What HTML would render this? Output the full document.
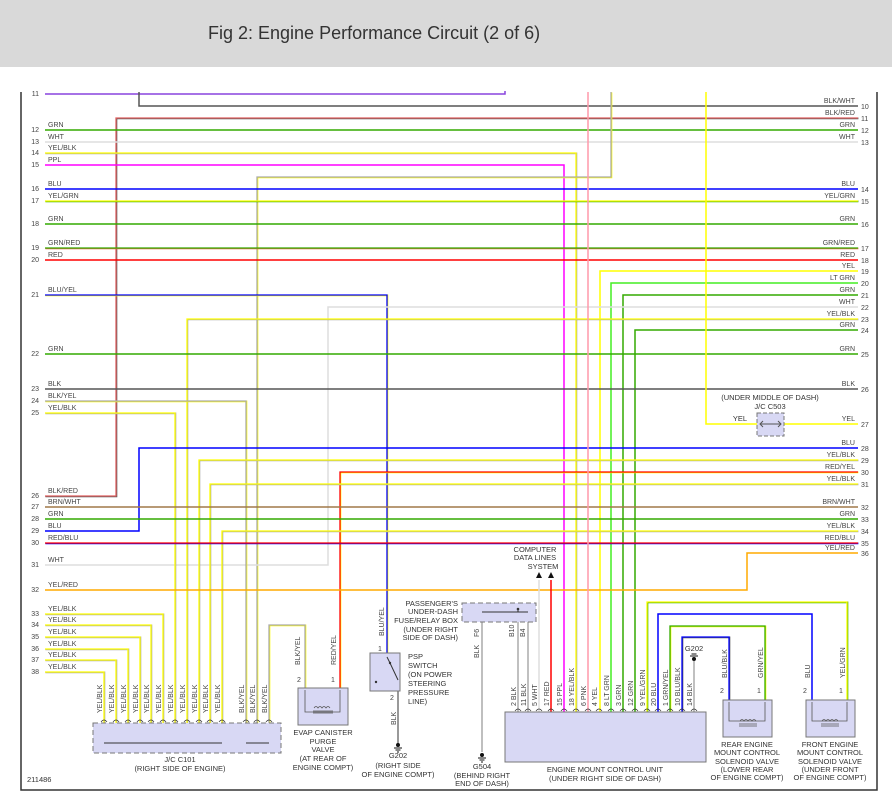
<!DOCTYPE html>
<html><head><meta charset="utf-8">
<style>
body{margin:0;background:#fff;}
svg{display:block;font-family:"Liberation Sans",sans-serif;}
.t{font-size:7px;fill:#444;}
.s{font-size:7.5px;fill:#333;}
</style></head>
<body>
<svg id="d" width="892" height="803" viewBox="0 0 892 803" xmlns="http://www.w3.org/2000/svg">
<rect x="0" y="0" width="892" height="67" fill="#d9d9d9"/>
<text x="208" y="39" font-size="18" fill="#333">Fig 2: Engine Performance Circuit (2 of 6)</text>
<path d="M21 92 V790 H877 V92" fill="none" stroke="#333" stroke-width="1.5"/>
<g id="wires"></g>
<g id="labels"></g>
<!-- C101 -->
<rect x="93" y="723" width="188" height="30" fill="#d8d8f4" stroke="#777" stroke-dasharray="5,3"/>
<text class="s" x="180" y="762" text-anchor="middle">J/C C101</text>
<text class="s" x="180" y="771" text-anchor="middle">(RIGHT SIDE OF ENGINE)</text>
<line x1="104" y1="743" x2="222" y2="743" stroke="#333"/>
<line x1="246" y1="743" x2="269" y2="743" stroke="#333"/>
<!-- EVAP -->
<rect x="298" y="688" width="50" height="37" fill="#d8d8f4" stroke="#777"/>
<path d="M305 690 V712 H340 V690" fill="none" stroke="#555" stroke-width="0.8"/>
<path d="M314 708 q2-3 4 0 q2-3 4 0 q2-3 4 0 q2-3 4 0 M313 711h20 M313 713h20" fill="none" stroke="#555" stroke-width="0.7"/>
<text class="s" x="323" y="735" text-anchor="middle">EVAP CANISTER</text>
<text class="s" x="323" y="744" text-anchor="middle">PURGE</text>
<text class="s" x="323" y="752" text-anchor="middle">VALVE</text>
<text class="s" x="323" y="761" text-anchor="middle">(AT REAR OF</text>
<text class="s" x="323" y="770" text-anchor="middle">ENGINE COMPT)</text>
<text class="t" x="297" y="682">2</text><text class="t" x="331" y="682">1</text>
<text class="t" transform="translate(300,665) rotate(-90)">BLK/YEL</text>
<text class="t" transform="translate(336,665) rotate(-90)">RED/YEL</text>
<!-- PSP -->
<rect x="370" y="653" width="30" height="38" fill="#d8d8f4" stroke="#777"/>
<path d="M387 657 L390 663 L398 680" stroke="#333" fill="none"/>
<circle cx="376" cy="682" r="1.2" fill="#333"/><circle cx="390" cy="663" r="1.2" fill="#333"/>
<text class="t" transform="translate(384,636) rotate(-90)">BLU/YEL</text>
<text class="t" x="378" y="651">1</text><text class="t" x="390" y="700">2</text>
<text class="s" x="408" y="659">PSP</text><text class="s" x="408" y="668">SWITCH</text><text class="s" x="408" y="677">(ON POWER</text><text class="s" x="408" y="686">STEERING</text><text class="s" x="408" y="695">PRESSURE</text><text class="s" x="408" y="704">LINE)</text>
<text class="t" transform="translate(396,725) rotate(-90)">BLK</text>
<line x1="398" y1="691" x2="398" y2="745" stroke="#777" stroke-width="1.5"/>
<circle cx="398" cy="745" r="2" fill="#111"/><path d="M394 748h8M395.5 750h5M397 752h2" stroke="#111"/>
<text class="s" x="398" y="758" text-anchor="middle">G202</text>
<text class="s" x="398" y="768" text-anchor="middle">(RIGHT SIDE</text>
<text class="s" x="398" y="777" text-anchor="middle">OF ENGINE COMPT)</text>
<!-- fuse box -->
<rect x="462" y="603" width="74" height="19" fill="#d8d8f4" stroke="#777" stroke-dasharray="5,3"/>
<path d="M482 612 H528 M518 609 V612" stroke="#333" fill="none"/><circle cx="518" cy="609" r="1.3" fill="#333"/>
<text class="s" x="458" y="606" text-anchor="end">PASSENGER'S</text><text class="s" x="458" y="614" text-anchor="end">UNDER-DASH</text><text class="s" x="458" y="623" text-anchor="end">FUSE/RELAY BOX</text><text class="s" x="458" y="632" text-anchor="end">(UNDER RIGHT</text><text class="s" x="458" y="640" text-anchor="end">SIDE OF DASH)</text>
<text class="t" transform="translate(479,658) rotate(-90)">BLK</text><text class="t" transform="translate(479,637) rotate(-90)">F6</text>
<text class="t" transform="translate(514,637) rotate(-90)">B10</text><text class="t" transform="translate(525,637) rotate(-90)">B4</text>
<circle cx="482" cy="755" r="2" fill="#111"/><path d="M478 758h8M479.5 760h5M481 762h2" stroke="#111"/>
<text class="s" x="482" y="769" text-anchor="middle">G504</text><text class="s" x="482" y="778" text-anchor="middle">(BEHIND RIGHT</text><text class="s" x="482" y="786" text-anchor="middle">END OF DASH)</text>
<text class="s" x="535" y="552" text-anchor="middle">COMPUTER</text><text class="s" x="535" y="560" text-anchor="middle">DATA LINES</text><text class="s" x="543" y="569" text-anchor="middle">SYSTEM</text>
<path d="M536 578 l3-6 l3 6z M548 578 l3-6 l3 6z" fill="#111"/>
<!-- ECU -->
<rect x="505" y="712" width="201" height="50" fill="#d8d8f4" stroke="#777"/>
<text class="s" x="605" y="772" text-anchor="middle">ENGINE MOUNT CONTROL UNIT</text>
<text class="s" x="605" y="781" text-anchor="middle">(UNDER RIGHT SIDE OF DASH)</text>
<!-- valves -->
<rect x="723" y="700" width="49" height="37" fill="#d8d8f4" stroke="#777"/>
<path d="M729 702 V721 H765 V702" fill="none" stroke="#555" stroke-width="0.8"/>
<path d="M740 721 q2-3 4 0 q2-3 4 0 q2-3 4 0 q2-3 4 0 M739 724h18 M739 726h18" fill="none" stroke="#555" stroke-width="0.7"/>
<rect x="806" y="700" width="49" height="37" fill="#d8d8f4" stroke="#777"/>
<path d="M812 702 V721 H847 V702" fill="none" stroke="#555" stroke-width="0.8"/>
<path d="M822 721 q2-3 4 0 q2-3 4 0 q2-3 4 0 q2-3 4 0 M821 724h18 M821 726h18" fill="none" stroke="#555" stroke-width="0.7"/>
<text class="s" x="747" y="747" text-anchor="middle">REAR ENGINE</text><text class="s" x="747" y="755" text-anchor="middle">MOUNT CONTROL</text><text class="s" x="747" y="764" text-anchor="middle">SOLENOID VALVE</text><text class="s" x="747" y="772" text-anchor="middle">(LOWER REAR</text><text class="s" x="747" y="780" text-anchor="middle">OF ENGINE COMPT)</text>
<text class="s" x="830" y="747" text-anchor="middle">FRONT ENGINE</text><text class="s" x="830" y="755" text-anchor="middle">MOUNT CONTROL</text><text class="s" x="830" y="764" text-anchor="middle">SOLENOID VALVE</text><text class="s" x="830" y="772" text-anchor="middle">(UNDER FRONT</text><text class="s" x="830" y="780" text-anchor="middle">OF ENGINE COMPT)</text>
<text class="t" x="720" y="693">2</text><text class="t" x="757" y="693">1</text><text class="t" x="803" y="693">2</text><text class="t" x="839" y="693">1</text>
<text class="t" transform="translate(727,678) rotate(-90)">BLU/BLK</text><text class="t" transform="translate(763,678) rotate(-90)">GRN/YEL</text>
<text class="t" transform="translate(810,678) rotate(-90)">BLU</text><text class="t" transform="translate(845,678) rotate(-90)">YEL/GRN</text>
<circle cx="694" cy="659" r="2" fill="#111"/><path d="M690 656h8M691.5 654h5"  stroke="#111"/>
<text class="s" x="694" y="651" text-anchor="middle">G202</text>
<!-- C503 -->
<rect x="757" y="413" width="27" height="23" fill="#d8d8f4" stroke="#777" stroke-dasharray="4,2"/>
<path d="M760 424h21M763 421l-3 3 3 3M778 421l3 3-3 3" stroke="#555" fill="none"/>
<text class="s" x="770" y="400" text-anchor="middle">(UNDER MIDDLE OF DASH)</text>
<text class="s" x="770" y="409" text-anchor="middle">J/C C503</text>
<text class="s" x="747" y="421" text-anchor="end">YEL</text>
<text class="s" x="27" y="782">211486</text>
<script>
const NS='http://www.w3.org/2000/svg';
const W=document.getElementById('wires'),L=document.getElementById('labels');
const C={GRN:'#33aa00',WHT:'#dddddd',YEL:'#ffff00',BLK:'#555555',BLU:'#0000ff',RED:'#ff0000',PPL:'#ff00ff',PNK:'#ff99aa',LTG:'#44ee22',BRN:'#a07848',GRY:'#aaaaaa',ORG:'#ffaa00',PUR:'#8844dd'};
// wires: [points, main colour, stripe colour]
const wires=[
 [[45,94,505,94,505,91],C.PUR,null],
 [[139,92,139,106,858,106],C.BLK,null],
 [[45,496,116,496,116,118,858,118],'#e06060',C.BLK],
 [[45,130,858,130],C.GRN,null],
 [[45,142,858,142],C.WHT,null],
 [[45,153,576,153,576,712],C.YEL,C.GRY],
 [[45,165,564,165,564,712],C.PPL,null],
 [[611,92,611,177,257,177,257,723],C.GRY,C.YEL],
 [[45,189,858,189],C.BLU,null],
 [[45,201,858,201],C.YEL,C.GRN],
 [[45,224,858,224],C.GRN,null],
 [[45,248,858,248],C.GRN,'#ee6644'],
 [[45,260,858,260],C.RED,null],
 [[858,271,600,271,600,712],C.YEL,null],
 [[858,283,611,283,611,712],C.LTG,null],
 [[858,295,623,295,623,712],C.GRN,null],
 [[45,295,387,295,387,653],C.BLU,C.YEL],
 [[858,307,328,307,328,565,45,565],C.WHT,null],
 [[858,319,187,319,187,723],C.YEL,C.GRY],
 [[858,330,635,330,635,712],C.GRN,null],
 [[45,354,858,354],C.GRN,null],
 [[45,389,858,389],C.BLK,null],
 [[45,401,246,401,246,723],C.GRY,C.YEL],
 [[45,413,175,413,175,723],C.YEL,C.GRY],
 [[706,92,706,424,757,424],C.YEL,null],
 [[784,424,858,424],C.YEL,null],
 [[45,531,139,531,139,448,858,448],C.BLU,null],
 [[858,460,199,460,199,723],C.YEL,C.GRY],
 [[858,472,340,472,340,688],C.RED,C.YEL],
 [[858,484,210,484,210,723],C.YEL,C.GRY],
 [[45,507,858,507],C.BRN,null],
 [[45,519,858,519],C.GRN,null],
 [[858,531,222,531,222,723],C.YEL,C.GRY],
 [[45,543,858,543],C.RED,C.BLU],
 [[45,590,747,590,747,553,858,553],C.ORG,null],
 [[45,614,163,614,163,723],C.YEL,C.GRY],
 [[45,625,151,625,151,723],C.YEL,C.GRY],
 [[45,637,140,637,140,723],C.YEL,C.GRY],
 [[45,649,128,649,128,723],C.YEL,C.GRY],
 [[45,660,116,660,116,723],C.YEL,C.GRY],
 [[45,672,104,672,104,723],C.YEL,C.GRY],
 [[269,723,269,625,305,625,305,688],C.GRY,C.YEL],
 [[588,92,588,712],C.PNK,null],
 [[482,622,482,752],C.GRY,null],
 [[518,622,518,712],C.GRY,null],
 [[528,622,528,712],C.GRY,null],
 [[539,580,539,712],C.WHT,null],
 [[551,580,551,712],C.RED,null],
 [[647,712,647,602,847,602,847,700],C.YEL,C.GRN],
 [[658,712,658,614,812,614,812,700],C.BLU,null],
 [[670,712,670,626,765,626,765,700],C.GRN,C.YEL],
 [[682,712,682,637,729,637,729,700],C.BLU,C.BLK],
 [[694,712,694,661],C.GRY,null]
];
wires.forEach((w,i)=>{
  const pts=w[0].join(' ');
  if(w[2]){const b=document.createElementNS(NS,'polyline');b.setAttribute('points',pts);b.setAttribute('fill','none');b.setAttribute('stroke',w[2]);b.setAttribute('stroke-width','1.8');b.setAttribute('transform','translate(0.4,0.4)');W.appendChild(b);}
  const p=document.createElementNS(NS,'polyline');
  
  
  p.setAttribute('points',pts);p.setAttribute('fill','none');p.setAttribute('stroke',w[1]);p.setAttribute('stroke-width',w[2]?'1.3':'1.5');
  W.appendChild(p);
});
function txt(x,y,s,anchor,cls,rot){const t=document.createElementNS(NS,'text');t.setAttribute('class',cls||'t');
 if(rot){t.setAttribute('transform','translate('+x+','+y+') rotate(-90)');}else{t.setAttribute('x',x);t.setAttribute('y',y);}
 if(anchor)t.setAttribute('text-anchor',anchor);t.textContent=s;L.appendChild(t);return t;}
const leftNums=['11','12','13','14','15','16','17','18','19','20','21','22','23','24','25','26','27','28','29','30','31','32','33','34','35','36','37','38'];
const leftNames=['','GRN','WHT','YEL/BLK','PPL','BLU','YEL/GRN','GRN','GRN/RED','RED','BLU/YEL','GRN','BLK','BLK/YEL','YEL/BLK','BLK/RED','BRN/WHT','GRN','BLU','RED/BLU','WHT','YEL/RED','YEL/BLK','YEL/BLK','YEL/BLK','YEL/BLK','YEL/BLK','YEL/BLK'];
const leftY=[94,130,142,153,165,189,201,224,248,260,295,354,389,401,413,496,507,519,531,543,565,590,614,625,637,649,660,672];
leftNums.forEach((n,i)=>{txt(39,leftY[i]+2,n,'end');if(leftNames[i])txt(48,leftY[i]-3,leftNames[i]);});
const rightNums=['10','11','12','13','14','15','16','17','18','19','20','21','22','23','24','25','26','27','28','29','30','31','32','33','34','35','36'];
const rightNames=['BLK/WHT','BLK/RED','GRN','WHT','BLU','YEL/GRN','GRN','GRN/RED','RED','YEL','LT GRN','GRN','WHT','YEL/BLK','GRN','GRN','BLK','YEL','BLU','YEL/BLK','RED/YEL','YEL/BLK','BRN/WHT','GRN','YEL/BLK','RED/BLU','YEL/RED'];
const rightY=[106,118,130,142,189,201,224,248,260,271,283,295,307,319,330,354,389,424,448,460,472,484,507,519,531,543,553];
rightNums.forEach((n,i)=>{txt(861,rightY[i]+3,n);txt(855,rightY[i]-3,rightNames[i],'end');});
const c101X=[104,116,128,140,151,163,175,187,199,210,222,246,257,269];
const c101N=['YEL/BLK','YEL/BLK','YEL/BLK','YEL/BLK','YEL/BLK','YEL/BLK','YEL/BLK','YEL/BLK','YEL/BLK','YEL/BLK','YEL/BLK','BLK/YEL','BLK/YEL','BLK/YEL'];
c101X.forEach((x,i)=>{txt(x-2,713,c101N[i],null,'t',true);
 const a=document.createElementNS(NS,'path');a.setAttribute('d','M'+(x-3)+' 722 q3-4 6 0 M'+x+' 743 V725 M'+(x-2)+' 727 l2-2 2 2');a.setAttribute('stroke','#333');a.setAttribute('fill','none');a.setAttribute('stroke-width','0.7');L.appendChild(a);
 if(i>0&&i<10||i==12){const c=document.createElementNS(NS,'circle');c.setAttribute('cx',x);c.setAttribute('cy',743);c.setAttribute('r',1.3);c.setAttribute('fill','#111');L.appendChild(c);}
});
const ecuX=[518,528,539,551,564,576,588,599,611,623,635,647,658,670,682,694];
const ecuPin=['PG1','PG1','CAN-H','CAN-L','CYL OUT','CRK1 OUT','CSSAM','IG1 METER','SOL RLY','IG SOL1','IG SOL2','SOL FM','SOL FP','SOL RM','SOL RP','LG'];
const ecuWire=['2  BLK','11  BLK','5  WHT','17  RED','15  PPL','18  YEL/BLK','6  PNK','4  YEL','8  LT GRN','3  GRN','12  GRN','9  YEL/GRN','20  BLU','1  GRN/YEL','10  BLU/BLK','14  BLK'];
ecuX.forEach((x,i)=>{txt(x+2,757,ecuPin[i],null,'t',true);txt(x-2,706,ecuWire[i],null,'t',true);
 const a=document.createElementNS(NS,'path');a.setAttribute('d','M'+(x-3)+' 711 q3-4 6 0');a.setAttribute('stroke','#333');a.setAttribute('fill','none');a.setAttribute('stroke-width','0.7');L.appendChild(a);});
</script>
</svg>
</body></html>
